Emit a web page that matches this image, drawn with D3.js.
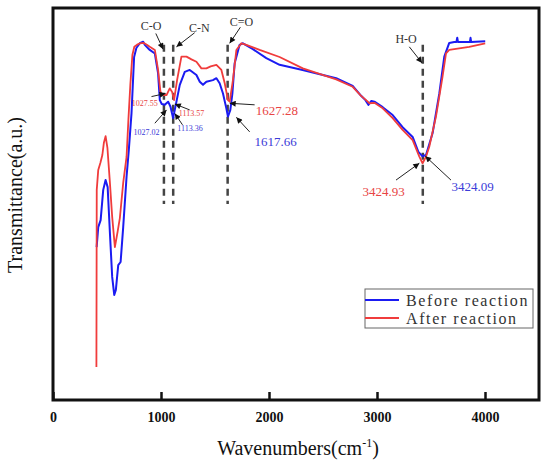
<!DOCTYPE html>
<html>
<head>
<meta charset="utf-8">
<script src="https://cdn.jsdelivr.net/npm/d3@7"></script>
<style>
  body { margin: 0; background: #fff; }
  svg { display: block; }
</style>
</head>
<body>
<svg id="chart"></svg>
<script>
// wavenumber (cm-1) and transmittance (a.u.)
let beforeX = [404, 419, 441, 465, 487, 506, 527, 548, 567, 582, 604, 626, 650, 681, 702, 727, 751, 772, 804, 835, 850, 896, 943, 973, 989, 1007, 1035, 1066, 1088, 1112, 1137, 1174, 1220, 1266, 1328, 1359, 1389, 1420, 1481, 1513, 1543, 1574, 1605, 1620, 1642, 1661, 1682, 1728, 1759, 1851, 1975, 2098, 2311, 2622, 2775, 2853, 2893, 2920, 2948, 2976, 3053, 3145, 3237, 3330, 3383, 3420, 3454, 3515, 3577, 3623, 3669, 3715, 3735, 3743, 3750, 3860, 3866, 3872, 4002]
let beforeY = [39.0, 44.1, 45.9, 53.6, 56.1, 54.3, 42.6, 31.4, 26.8, 28.1, 34.4, 35.2, 44.1, 56.9, 63.8, 73.2, 87.5, 89.8, 91.0, 91.4, 90.6, 89.3, 88.4, 83.3, 76.5, 75.5, 75.3, 76.1, 74.8, 71.9, 75.3, 80.4, 83.7, 84.2, 82.9, 81.2, 80.4, 81.2, 81.6, 82.1, 80.8, 78.2, 74.4, 72.3, 74.0, 78.2, 85.9, 90.6, 91.0, 89.5, 87.2, 85.5, 84.2, 82.1, 80.1, 77.6, 76.5, 75.3, 76.3, 76.1, 74.7, 72.7, 69.6, 67.1, 63.3, 62.2, 62.5, 68.1, 78.2, 87.6, 91.1, 91.3, 91.3, 92.4, 91.3, 91.3, 92.4, 91.3, 91.5]

let afterX = [402, 405, 419, 439, 457, 471, 487, 504, 527, 548, 573, 598, 619, 650, 681, 698, 716, 735, 753, 776, 804, 841, 869, 896, 943, 973, 995, 1017, 1051, 1081, 1103, 1121, 1149, 1189, 1236, 1282, 1328, 1374, 1420, 1460, 1513, 1559, 1590, 1620, 1636, 1666, 1698, 1744, 1790, 1913, 2098, 2313, 2622, 2775, 2853, 2899, 2930, 2976, 3053, 3145, 3237, 3330, 3392, 3422, 3454, 3484, 3546, 3607, 3639, 3669, 3854, 4002]
let afterY = [8.4, 53.6, 58.7, 60.5, 62.5, 65.6, 67.3, 64.3, 55.4, 46.7, 39.0, 42.9, 46.4, 55.4, 62.0, 71.4, 80.4, 88.0, 90.1, 90.6, 91.0, 91.1, 90.6, 90.1, 89.3, 84.2, 78.6, 77.8, 77.8, 79.5, 78.6, 76.5, 81.6, 87.6, 87.6, 86.9, 86.3, 84.6, 84.6, 85.1, 85.5, 84.2, 80.8, 76.5, 76.1, 81.6, 89.3, 91.0, 90.6, 89.3, 87.5, 84.6, 81.8, 79.9, 77.6, 76.5, 75.7, 75.8, 74.4, 71.9, 68.9, 66.3, 62.1, 60.4, 62.1, 64.6, 72.3, 82.5, 88.4, 89.3, 90.1, 91.0]

let seriesNames = ['Before reaction', 'After reaction']
let seriesColors = ['#1b1bf2', '#f03c3c']

let xTicks = [0, 1000, 2000, 3000, 4000]

// dashed marker lines (wavenumber) and their top/bottom in a.u.
let bandX = [1027, 1113, 1617, 3424]
let bandTop = 90.6
let bandBottom = 50.0

// group labels: text, x, y
let groupText = ['C-O', 'C-N', 'C=O', 'H-O']
let groupX = [908, 1354, 1744, 3269]
let groupY = [94.4, 93.9, 95.5, 91.1]

// peak labels: text, x, y, series index, size
let peakText = ['1027.55', '1027.02', '1113.57', '1113.36', '1627.28', '1617.66', '3424.93', '3424.09']
let peakX = [850, 866, 1282, 1269, 2072, 2061, 3061, 3886]
let peakY = [75.0, 67.7, 72.4, 68.7, 72.8, 64.8, 52.0, 53.3]
let peakSeries = [1, 0, 1, 0, 1, 0, 1, 0]
let peakSize = [8, 8, 8, 8, 13, 13, 13, 13]

// arrows: from (x1,y1) to (x2,y2)
let arrowX1 = [952, 1312, 1735, 3299, 912, 943, 1266, 1199, 1867, 1821, 3176, 3685]
let arrowY1 = [93.5, 93.7, 95.1, 90.1, 77.4, 70.6, 74.0, 70.2, 75.3, 68.4, 56.1, 56.1]
let arrowX2 = [1019, 1143, 1636, 3417, 1042, 1051, 1128, 1128, 1636, 1698, 3392, 3447]
let arrowY2 = [89.5, 90.1, 91.0, 86.0, 78.2, 74.0, 75.5, 73.1, 75.7, 72.1, 60.4, 62.2]

let width = 550
let height = 470
let plotLeft = 53
let plotRight = 539
let plotTop = 8
let plotBottom = 400

let labelColors = ['#3c3cd8', '#e84444']
let serif = '"Liberation Serif", "Times New Roman", serif'

let svg = d3.select('#chart')
  .attr('width', width)
  .attr('height', height)

let xScale = d3.scaleLinear().domain([0, 4500]).range([plotLeft, plotRight])
let yScale = d3.scaleLinear().domain([0, 100]).range([plotBottom, plotTop])

let defs = svg.append('defs')
defs.append('marker')
  .attr('id', 'head')
  .attr('viewBox', '0 0 10 10')
  .attr('refX', 10)
  .attr('refY', 5)
  .attr('markerWidth', 9)
  .attr('markerHeight', 6)
  .attr('markerUnits', 'userSpaceOnUse')
  .attr('orient', 'auto')
  .append('path')
  .attr('d', 'M0,0 L10,5 L0,10 Z')
  .attr('fill', '#111')

// x axis, ticks pointing inwards
let xAxis = d3.axisBottom(xScale)
  .tickValues(xTicks)
  .tickFormat(d3.format('d'))
  .tickSize(-8)
  .tickPadding(12)

let gx = svg.append('g')
  .attr('transform', 'translate(0,' + plotBottom + ')')
  .call(xAxis)
gx.select('.domain').remove()
gx.selectAll('.tick line').attr('stroke', '#111').attr('stroke-width', 2.5)
gx.selectAll('.tick text')
  .attr('fill', '#111')
  .style('font-family', serif)
  .style('font-weight', 'bold')
  .style('font-size', '14px')

// dashed band lines
svg.selectAll('.band')
  .data(bandX)
  .enter()
  .append('line')
  .attr('class', 'band')
  .attr('x1', d => xScale(d))
  .attr('x2', d => xScale(d))
  .attr('y1', yScale(bandTop))
  .attr('y2', yScale(bandBottom))
  .attr('stroke', '#444')
  .attr('stroke-width', 2.5)
  .attr('stroke-dasharray', '7,5')

// spectra
let line = d3.line()
  .x(d => xScale(d[0]))
  .y(d => yScale(d[1]))

let before = beforeX.map((x, i) => [x, beforeY[i]])
let after = afterX.map((x, i) => [x, afterY[i]])

svg.append('path')
  .datum(before)
  .attr('d', line)
  .attr('fill', 'none')
  .attr('stroke', seriesColors[0])
  .attr('stroke-width', 2)
  .attr('stroke-linejoin', 'round')

svg.append('path')
  .datum(after)
  .attr('d', line)
  .attr('fill', 'none')
  .attr('stroke', seriesColors[1])
  .attr('stroke-width', 1.8)
  .attr('stroke-linejoin', 'round')

// arrows
svg.selectAll('.arrow')
  .data(arrowX1)
  .enter()
  .append('line')
  .attr('class', 'arrow')
  .attr('x1', (d, i) => xScale(arrowX1[i]))
  .attr('y1', (d, i) => yScale(arrowY1[i]))
  .attr('x2', (d, i) => xScale(arrowX2[i]))
  .attr('y2', (d, i) => yScale(arrowY2[i]))
  .attr('stroke', '#222')
  .attr('stroke-width', 1)
  .attr('marker-end', 'url(#head)')

// group labels
svg.selectAll('.group')
  .data(groupText)
  .enter()
  .append('text')
  .attr('class', 'group')
  .attr('x', (d, i) => xScale(groupX[i]))
  .attr('y', (d, i) => yScale(groupY[i]))
  .attr('text-anchor', 'middle')
  .attr('fill', '#333')
  .style('font-family', serif)
  .style('font-size', '12px')
  .text(d => d)

// peak labels
svg.selectAll('.peak')
  .data(peakText)
  .enter()
  .append('text')
  .attr('class', 'peak')
  .attr('x', (d, i) => xScale(peakX[i]))
  .attr('y', (d, i) => yScale(peakY[i]))
  .attr('text-anchor', 'middle')
  .attr('fill', (d, i) => labelColors[peakSeries[i]])
  .style('font-family', serif)
  .style('font-size', (d, i) => peakSize[i] + 'px')
  .text(d => d)

// frame
svg.append('rect')
  .attr('x', plotLeft)
  .attr('y', plotTop)
  .attr('width', plotRight - plotLeft)
  .attr('height', plotBottom - plotTop)
  .attr('fill', 'none')
  .attr('stroke', '#111')
  .attr('stroke-width', 3)

// axis titles
let xTitle = svg.append('text')
  .attr('x', (plotLeft + plotRight) / 2 + 2)
  .attr('y', 455)
  .attr('text-anchor', 'middle')
  .attr('fill', '#111')
  .style('font-family', serif)
  .style('font-size', '20px')
xTitle.append('tspan').text('Wavenumbers(cm')
xTitle.append('tspan').attr('dy', -8).style('font-size', '12px').text('-1')
xTitle.append('tspan').attr('dy', 8).text(')')

svg.append('text')
  .attr('transform', 'translate(22,195) rotate(-90)')
  .attr('text-anchor', 'middle')
  .attr('fill', '#111')
  .style('font-family', serif)
  .style('font-size', '20px')
  .text('Transmittance(a.u.)')

// legend
let legend = svg.append('g')
  .attr('transform', 'translate(365,289)')

legend.append('rect')
  .attr('width', 168)
  .attr('height', 39)
  .attr('fill', '#fff')
  .attr('stroke', '#666')
  .attr('stroke-width', 1)

seriesNames.forEach((name, i) => {
  legend.append('line')
    .attr('x1', 0)
    .attr('x2', 34)
    .attr('y1', 11 + i * 18)
    .attr('y2', 11 + i * 18)
    .attr('stroke', seriesColors[i])
    .attr('stroke-width', 2)
  legend.append('text')
    .attr('x', 41)
    .attr('y', 16.5 + i * 18)
    .attr('fill', '#333')
    .style('font-family', serif)
    .style('font-size', '16px')
    .style('letter-spacing', '1.6px')
    .text(name)
})
</script>
</body>
</html>
